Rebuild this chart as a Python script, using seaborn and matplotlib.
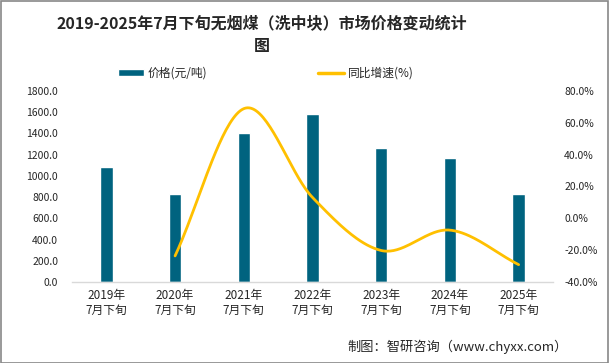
import numpy as np
import pandas as pd
import matplotlib
matplotlib.use("Agg")
import matplotlib.pyplot as plt
import seaborn as sns
from matplotlib.lines import Line2D
from matplotlib.patches import Patch

sns.set_style("white")
plt.rcParams['font.family'] = ['Noto Sans CJK SC', 'DejaVu Sans']
plt.rcParams['axes.unicode_minus'] = False

categories = ["2019年\n7月下旬", "2020年\n7月下旬", "2021年\n7月下旬", "2022年\n7月下旬",
              "2023年\n7月下旬", "2024年\n7月下旬", "2025年\n7月下旬"]
price = [1085, 829, 1400, 1583, 1263, 1169, 829]
growth = [None, -23.6, 68.9, 13.1, -20.2, -7.4, -29.1]
left_ticks = [0, 200, 400, 600, 800, 1000, 1200, 1400, 1600, 1800]
right_ticks = [-40, -20, 0, 20, 40, 60, 80]

BAR = "#00637F"
LINE = "#FFC000"

fig = plt.figure(figsize=(6.09, 3.63), dpi=100)
ax = fig.add_axes([72/609, 1-282/363, (553-72)/609, (282-91)/363])

df = pd.DataFrame({"cat": categories, "price": price})
sns.barplot(data=df, x="cat", y="price", color=BAR, width=0.18, ax=ax, saturation=1)
ax.set_xlim(-0.5, 6.5)
ax.set_ylim(0, 1800)
ax.set_yticks(left_ticks)
ax.set_yticklabels([f"{v:.1f}" for v in left_ticks], fontsize=7.5)
ax.set_xlabel("")
ax.set_ylabel("")
ax.tick_params(axis='x', labelsize=8.5, length=0, pad=5)
ax.tick_params(axis='y', length=0, pad=10)
for s in ["top", "right", "left"]:
    ax.spines[s].set_visible(False)
ax.spines["bottom"].set_color("#D9D9D9")
ax.spines["bottom"].set_linewidth(1)

ax2 = ax.twinx()
# smooth (Catmull-Rom) line through the growth points
xs = np.array([i for i, g in enumerate(growth) if g is not None], dtype=float)
ys = np.array([g for g in growth if g is not None], dtype=float)
px = np.concatenate([[2*xs[0]-xs[1]], xs, [2*xs[-1]-xs[-2]]])
py = np.concatenate([[2*ys[0]-ys[1]], ys, [2*ys[-1]-ys[-2]]])
cx, cy = [], []
for i in range(1, len(px)-2):
    t = np.linspace(0, 1, 40)
    for arr, out in ((px, cx), (py, cy)):
        p0, p1, p2, p3 = arr[i-1], arr[i], arr[i+1], arr[i+2]
        out.extend(0.5*((2*p1) + (-p0+p2)*t + (2*p0-5*p1+4*p2-p3)*t**2 + (-p0+3*p1-3*p2+p3)*t**3))
line_df = pd.DataFrame({"x": cx, "y": cy})
sns.lineplot(data=line_df, x="x", y="y", sort=False, color=LINE, linewidth=2, ax=ax2)
ax2.set_ylim(-40, 80)
ax2.set_yticks(right_ticks)
ax2.set_yticklabels([f"{v:.1f}%" for v in right_ticks], fontsize=7.5)
ax2.set_xlabel("")
ax2.set_ylabel("")
ax2.tick_params(axis='y', length=0, pad=8)
for s in ["top", "right", "left", "bottom"]:
    ax2.spines[s].set_visible(False)
ax2.set_xlim(-0.5, 6.5)

fig.text(262/609, 1-23/363, "2019-2025年7月下旬无烟煤（洗中块）市场价格变动统计",
         ha="center", va="center", fontsize=11.5, fontweight="bold")
fig.text(262/609, 1-46/363, "图", ha="center", va="center", fontsize=11.5, fontweight="bold")

handles = [Patch(facecolor=BAR), Line2D([0], [0], color=LINE, linewidth=2.5)]
fig.legend(handles, ["价格(元/吨)", "同比增速(%)"], loc="center", bbox_to_anchor=(266/609, 1-73/363),
           ncol=2, frameon=False, fontsize=8.5, columnspacing=9.4, handlelength=2.2, handletextpad=0.3,
           handleheight=0.5)

fig.text(568/609, 1-347/363, "制图：智研咨询（www.chyxx.com）", ha="right", va="center", fontsize=9.5)

fig.add_artist(plt.Rectangle((0.5/609, 0.5/363), 1-1.5/609, 1-1.5/363, transform=fig.transFigure,
                             fill=False, edgecolor="#888888", linewidth=1.2))

fig.savefig("out.png", dpi=100)
